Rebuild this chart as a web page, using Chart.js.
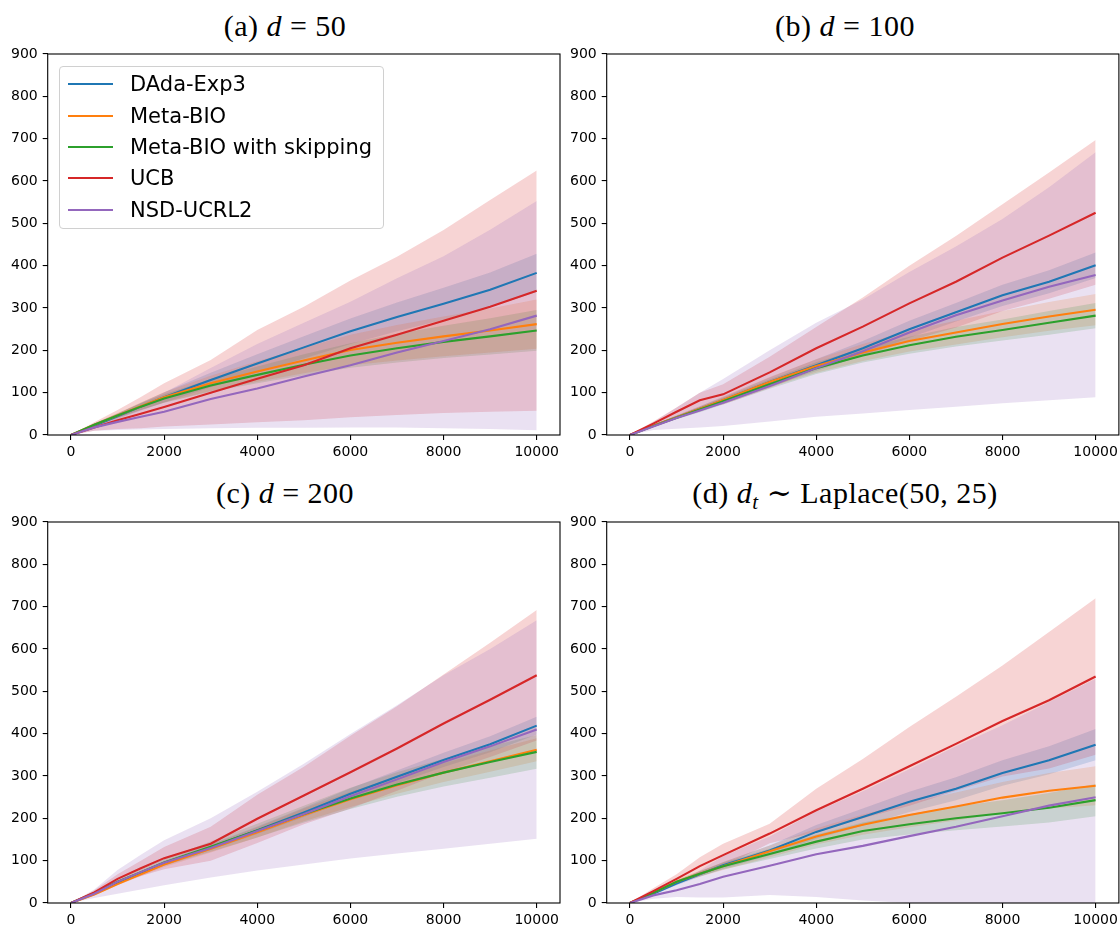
<!DOCTYPE html>
<html><head><meta charset="utf-8">
<script src="https://cdn.jsdelivr.net/npm/chart.js@4.4.1/dist/chart.umd.min.js"></script>
<style>
html,body{margin:0;padding:0;background:#fff;width:1120px;height:926px;overflow:hidden;position:relative;}
canvas{position:absolute;}
.title{position:absolute;width:440px;text-align:center;font-family:"Liberation Serif","DejaVu Serif",serif;font-size:30px;line-height:30px;color:#000;white-space:nowrap;letter-spacing:0.5px;}
.title i{font-style:italic;}
.legend{position:absolute;border:1px solid #d0d0d0;border-radius:4px;background:rgba(255,255,255,0.8);box-sizing:border-box;}
.legend .ln{position:absolute;left:8px;width:45px;height:2px;}
.legend .tx{position:absolute;left:70px;font-family:"DejaVu Sans",sans-serif;font-size:21px;line-height:21px;color:#000;white-space:nowrap;}
</style></head><body>

<div class="title" style="left:65px;top:11px">(a) <i>d</i> = 50</div>
<div class="title" style="left:625px;top:11px">(b) <i>d</i> = 100</div>
<div class="title" style="left:65px;top:478px">(c) <i>d</i> = 200</div>
<div class="title" style="left:625px;top:478px">(d) <i>d</i><span style="font-style:italic;font-size:21px;position:relative;top:6px">t</span> ∼ Laplace(50, 25)</div>

<canvas id="ca" width="564" height="430" style="left:0px;top:40px"></canvas>
<canvas id="cb" width="562" height="430" style="left:560px;top:40px"></canvas>
<canvas id="cc" width="564" height="418" style="left:0px;top:508px"></canvas>
<canvas id="cd" width="562" height="418" style="left:560px;top:508px"></canvas>

<div class="legend" id="leg" style="left:59px;top:66px;width:325px;height:163px"></div>

<script>
// ---- shared ----
const X = [0,500,1000,1500,2000,3000,4000,5000,6000,7000,8000,9000,10000];
const X_TICKS = [0,2000,4000,6000,8000,10000];
const Y_TICKS = [0,100,200,300,400,500,600,700,800,900];
const NAMES = ['DAda-Exp3','Meta-BIO','Meta-BIO with skipping','UCB','NSD-UCRL2'];
const COLORS = ['#1f77b4','#ff7f0e','#2ca02c','#d62728','#9467bd'];

// ---- (a) d = 50 ----
const aDada   = [0,22,44,67,89,130,169,207,245,279,310,343,383];
const aDadaLo = [0,19,38,58,77,113,147,181,215,245,272,302,338];
const aDadaHi = [0,25,50,76,101,147,191,233,275,313,348,384,428];
const aMeta   = [0,24,46,68,89,122,150,176,201,218,233,247,262];
const aMetaLo = [0,21,40,59,77,104,126,146,165,176,186,195,204];
const aMetaHi = [0,27,52,77,101,140,174,206,237,260,280,299,320];
const aSkip   = [0,24,46,67,86,117,142,166,188,205,220,233,247];
const aSkipLo = [0,21,41,59,76,102,122,141,159,171,182,190,199];
const aSkipHi = [0,27,51,75,96,132,162,191,217,239,258,276,295];
const aUcb    = [0,18,35,50,66,100,133,165,205,237,270,303,341];
const aUcbLo  = [0,10,14,16,20,25,30,35,42,47,52,55,57];
const aUcbHi  = [0,30,59,90,122,177,248,303,365,421,484,555,625];
const aNsd    = [0,18,31,43,55,85,110,138,165,195,222,250,282];
const aNsdLo  = [0,10,12,13,14,16,17,17,18,18,16,14,11];
const aNsdHi  = [0,28,50,75,100,158,215,265,315,370,422,485,553];

// ---- (b) d = 100 ----
const bDada   = [0,22,42,62,82,125,165,205,250,290,330,362,401];
const bDadaLo = [0,20,38,56,74,114,151,188,230,268,305,335,371];
const bDadaHi = [0,24,46,68,90,136,179,222,270,312,355,389,431];
const bMeta   = [0,22,42,62,83,125,163,195,222,242,262,280,296];
const bMetaLo = [0,20,38,56,75,113,147,175,197,214,231,246,259];
const bMetaHi = [0,24,46,68,91,137,179,215,247,270,293,314,333];
const bSkip   = [0,21,41,60,80,120,158,188,212,232,248,265,282];
const bSkipLo = [0,19,37,54,72,109,144,171,192,209,223,237,252];
const bSkipHi = [0,23,45,66,88,131,172,205,232,255,273,293,312];
const bUcb    = [0,27,55,82,96,148,205,256,311,362,419,471,525];
const bUcbLo  = [0,22,45,64,72,111,155,187,222,254,293,322,355];
const bUcbHi  = [0,32,65,100,120,185,255,325,400,470,545,620,697];
const bNsd    = [0,20,40,58,76,116,158,198,242,283,318,350,378];
const bNsdLo  = [0,12,15,18,21,32,43,51,59,67,75,82,89];
const bNsdHi  = [0,30,65,100,132,200,265,320,385,445,510,585,668];

// ---- (c) d = 200 ----
const cDada   = [0,22,48,71,94,132,172,214,258,298,338,375,419];
const cDadaLo = [0,21,45,67,89,125,163,203,245,283,321,356,398];
const cDadaHi = [0,23,51,75,99,139,181,225,271,313,355,394,440];
const cMeta   = [0,20,45,68,91,128,167,208,245,278,308,335,362];
const cMetaLo = [0,18,42,63,85,119,155,193,227,258,286,310,335];
const cMetaHi = [0,22,48,73,97,137,179,223,263,298,330,360,389];
const cSkip   = [0,24,50,73,96,133,171,210,247,280,308,333,357];
const cSkipLo = [0,22,46,67,88,121,155,190,222,251,275,296,317];
const cSkipHi = [0,26,54,79,104,145,187,230,272,309,341,370,397];
const cUcb    = [0,25,57,82,106,140,199,254,309,365,424,480,538];
const cUcbLo  = [0,20,46,64,80,100,142,186,223,265,308,345,384];
const cUcbHi  = [0,30,68,100,132,180,256,322,395,465,540,615,692];
const cNsd    = [0,22,50,73,95,130,170,210,252,292,333,370,410];
const cNsdLo  = [0,12,22,32,42,60,77,91,105,117,128,140,152];
const cNsdHi  = [0,32,78,114,148,200,263,329,399,467,538,600,668];

// ---- (d) d_t ~ Laplace(50,25) ----
const dDada   = [0,22,46,68,89,124,168,203,239,270,307,337,374];
const dDadaLo = [0,20,42,62,81,112,152,183,215,243,277,304,337];
const dDadaHi = [0,24,50,74,97,136,184,223,263,297,337,370,411];
const dMeta   = [0,24,50,69,87,122,157,185,208,228,249,265,277];
const dMetaLo = [0,22,45,62,78,108,138,161,179,195,212,223,231];
const dMetaHi = [0,26,55,76,96,136,176,209,237,261,286,307,323];
const dSkip   = [0,24,50,69,87,116,145,170,186,200,212,225,243];
const dSkipLo = [0,22,46,63,79,104,129,150,162,172,181,190,205];
const dSkipHi = [0,26,54,75,95,128,161,190,210,228,243,260,281];
const dUcb    = [0,28,57,87,113,164,219,270,323,376,430,479,535];
const dUcbLo  = [0,21,46,66,86,141,168,200,230,265,299,318,350];
const dUcbHi  = [0,35,68,108,140,187,270,340,416,487,561,640,720];
const dNsd    = [0,18,30,45,62,88,115,135,158,180,205,230,250];
const dNsdLo  = [0,10,14,13,13,19,14,6,0,0,0,0,0];
const dNsdHi  = [0,26,46,77,111,157,216,264,316,370,420,475,530];

const PANELS = {
  a: {mean:[aDada,aMeta,aSkip,aUcb,aNsd], lo:[aDadaLo,aMetaLo,aSkipLo,aUcbLo,aNsdLo], hi:[aDadaHi,aMetaHi,aSkipHi,aUcbHi,aNsdHi]},
  b: {mean:[bDada,bMeta,bSkip,bUcb,bNsd], lo:[bDadaLo,bMetaLo,bSkipLo,bUcbLo,bNsdLo], hi:[bDadaHi,bMetaHi,bSkipHi,bUcbHi,bNsdHi]},
  c: {mean:[cDada,cMeta,cSkip,cUcb,cNsd], lo:[cDadaLo,cMetaLo,cSkipLo,cUcbLo,cNsdLo], hi:[cDadaHi,cMetaHi,cSkipHi,cUcbHi,cNsdHi]},
  d: {mean:[dDada,dMeta,dSkip,dUcb,dNsd], lo:[dDadaLo,dMetaLo,dSkipLo,dUcbLo,dNsdLo], hi:[dDadaHi,dMetaHi,dSkipHi,dUcbHi,dNsdHi]}
};

function hexA(hex, a){
  const n = parseInt(hex.slice(1),16);
  return 'rgba('+((n>>16)&255)+','+((n>>8)&255)+','+(n&255)+','+a+')';
}
function pts(arr){ return X.map((x,i)=>({x:x,y:arr[i]})); }

const framePlugin = {
  id:'frame',
  afterDraw(chart){
    const a = chart.chartArea, ctx = chart.ctx;
    ctx.save();
    ctx.strokeStyle = '#000';
    ctx.lineWidth = 1.1;
    ctx.strokeRect(a.left, a.top, a.right-a.left, a.bottom-a.top);
    ctx.restore();
  }
};

function makeChart(id, p, yWidth, padRight, xHeight, padBottom){
  const ds = [];
  // bands first (higher order -> drawn earlier)
  for (let s=0; s<5; s++){
    ds.push({data:pts(p.hi[s]), borderWidth:0, pointRadius:0, fill:false, order:20-s*2, backgroundColor:'transparent', borderColor:'transparent'});
    ds.push({data:pts(p.lo[s]), borderWidth:0, pointRadius:0, fill:'-1', order:20-s*2, backgroundColor:hexA(COLORS[s],0.2), borderColor:'transparent'});
  }
  for (let s=0; s<5; s++){
    ds.push({label:NAMES[s], data:pts(p.mean[s]), borderColor:COLORS[s], borderWidth:2.1, pointRadius:0, fill:false, order:5-s});
  }
  const gridCfg = {display:true, drawOnChartArea:false, drawTicks:true, tickLength:5, color:'#000', lineWidth:1.1};
  const tickFont = {family:'DejaVu Sans', size:14};
  return new Chart(document.getElementById(id), {
    type:'line',
    data:{datasets:ds},
    options:{
      responsive:false, animation:false, events:[],
      layout:{padding:{top:14, left:0, right:padRight, bottom:padBottom}},
      plugins:{legend:{display:false}, tooltip:{enabled:false}, title:{display:false}},
      elements:{line:{tension:0}, point:{radius:0}},
      scales:{
        x:{type:'linear', min:-500, max:10500,
           afterBuildTicks:(s)=>{ s.ticks = X_TICKS.map(v=>({value:v})); },
           afterFit:(s)=>{ s.height = xHeight; },
           grid:gridCfg, border:{display:false},
           ticks:{color:'#000', font:tickFont, padding:4, maxRotation:0, autoSkip:false, callback:(v)=>String(v)}},
        y:{type:'linear', min:0, max:900,
           afterBuildTicks:(s)=>{ s.ticks = Y_TICKS.map(v=>({value:v})); },
           afterFit:(s)=>{ s.width = yWidth; },
           grid:gridCfg, border:{display:false},
           ticks:{color:'#000', font:tickFont, padding:5, autoSkip:false, callback:(v)=>String(v)}}
      }
    },
    plugins:[framePlugin]
  });
}

makeChart('ca', PANELS.a, 47.7, 4, 30, 5);
makeChart('cb', PANELS.b, 46.7, 2.7, 30, 5);
makeChart('cc', PANELS.c, 47.7, 4, 23, 0);
makeChart('cd', PANELS.d, 46.7, 2.7, 23, 0);

// legend (panel a)
const leg = document.getElementById('leg');
const ROW_Y = [17, 48.5, 80, 111, 142.5];
NAMES.forEach((n,i)=>{
  const l = document.createElement('div'); l.className='ln';
  l.style.top = (ROW_Y[i]-1)+'px'; l.style.background = COLORS[i];
  const t = document.createElement('div'); t.className='tx';
  t.style.top = (ROW_Y[i]-10)+'px'; t.textContent = n;
  leg.appendChild(l); leg.appendChild(t);
});
</script>
</body></html>
